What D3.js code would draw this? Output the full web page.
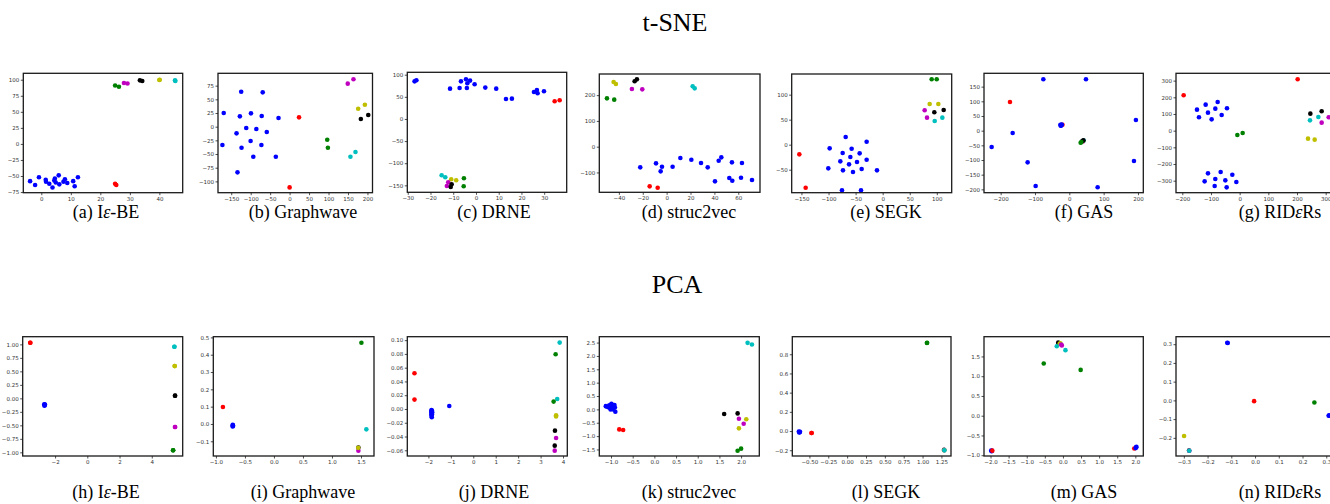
<!DOCTYPE html>
<html>
<head>
<meta charset="utf-8">
<script src="https://cdn.jsdelivr.net/npm/d3@7"></script>
<style>
  body { margin: 0; background: #fff; }
  .tick text { font-family: 'DejaVu Sans', sans-serif; font-size: 5.5px; fill: #333; }
  .tick line { stroke: #222; stroke-width: 0.8; }
  .title { font-family: 'Liberation Serif', serif; font-size: 26px; }
  .caption { font-family: 'Liberation Serif', serif; font-size: 18px; }
</style>
</head>
<body>
<script>
// matplotlib single-letter colours
var dotColors = {
  'b': '#0000ff', 'r': '#ff0000', 'g': '#008000', 'c': '#00bfbf',
  'm': '#bf00bf', 'y': '#bfbf00', 'k': '#000000'
};

// ---- t-SNE embeddings ([x, y, colour]) ----
var tsneIBE = [
  [-3.8,-58,'b'],[-2.1,-64,'b'],[-0.8,-52,'b'],[1.5,-56,'b'],[1.6,-59,'b'],[2.7,-62,'b'],
  [3.8,-68,'b'],[4.4,-57,'b'],[4.6,-54,'b'],[4.9,-60,'b'],[5.9,-49,'b'],[6.1,-63,'b'],
  [7.5,-59,'b'],[8.0,-55,'b'],[8.8,-61,'b'],[10.8,-58,'b'],[11.3,-66,'b'],[12.4,-52,'b'],
  [25.0,-62,'r'],[25.4,-64,'r'],[25.0,91,'g'],[26.3,89,'g'],[28.0,95,'m'],[29.2,94,'m'],
  [33.4,99,'k'],[34.2,98,'k'],[40.0,99.5,'y'],[40.1,100,'y'],[45.3,99,'c'],[45.4,98,'c']
];
var tsneGraphwave = [
  [-172.7,-33.5,'b'],[-169.3,25,'b'],[-136.4,-12.2,'b'],[-133.9,-83.5,'b'],[-127.8,18.9,'b'],
  [-124.4,64,'b'],[-123.5,-38.4,'b'],[-111.4,-2.4,'b'],[-100.2,-26.2,'b'],[-99.3,24.4,'b'],
  [-93.3,-54.9,'b'],[-85.5,-4.3,'b'],[-72.5,-33.5,'b'],[-71.7,19.5,'b'],[-69.1,62.8,'b'],
  [-58.7,-9.8,'b'],[-35.4,-54.9,'b'],[-28.5,15.9,'b'],
  [0,-111,'r'],[24.2,17.1,'r'],[96.7,-23.8,'g'],[98.4,-38.4,'g'],[156.3,-54.9,'c'],[169.3,-46.3,'c'],
  [149.4,78.7,'m'],[164.1,86.6,'m'],[176.2,32.9,'y'],[193.4,40.2,'y'],[183.1,14,'k'],[202.1,21.3,'k']
];
var tsneDRNE = [
  [-27,85,'b'],[-26.2,87.3,'b'],[-11.4,68.5,'b'],[-7.2,70,'b'],[-6.6,85,'b'],[-4.4,89.6,'b'],
  [-4,70,'b'],[-3.8,80.6,'b'],[-2.6,86.6,'b'],[-0.6,78.3,'b'],[4.1,70.8,'b'],[8.9,68.5,'b'],
  [13.2,45.2,'b'],[15.8,45.9,'b'],[25.5,61,'b'],[26.8,65.5,'b'],[27.1,58,'b'],[29.9,62.5,'b'],
  [34.6,39.9,'r'],[36.8,42.2,'r'],[-15.1,-127.3,'c'],[-13.5,-131.8,'c'],[-10.9,-136.3,'y'],
  [-8.7,-138.6,'y'],[-12.2,-143.1,'m'],[-12.8,-151.4,'m'],[-10.7,-147.6,'k'],[-11.1,-153.6,'k'],
  [-5.3,-134,'g'],[-5.4,-152.1,'g']
];
var tsneStruc2vec = [
  [-22.1,-80.2,'b'],[-8.9,-64.7,'b'],[-3.9,-77.6,'b'],[-5,-95.7,'b'],[5,-77.6,'b'],[11.5,-44,'b'],
  [20.7,-50.5,'b'],[28.8,-63.4,'b'],[34.4,-80.2,'b'],[40.5,-134.5,'b'],[43.6,-54.3,'b'],
  [45.8,-41.4,'b'],[52.5,-121.6,'b'],[54.7,-60.8,'b'],[55,-132,'b'],[62.3,-120.3,'b'],
  [63.1,-63.4,'b'],[71.5,-129.4,'b'],
  [-14.2,-154,'r'],[-7.5,-159.1,'r'],[-44.4,251,'y'],[-42.5,243,'y'],[-26.8,253.6,'k'],
  [-24.9,261.3,'k'],[-29.1,223.8,'m'],[-20.4,222.5,'m'],[-50,187.6,'g'],[-43.9,182.4,'g'],
  [21.8,234.2,'c'],[23.5,226.4,'c']
];
var tsneSEGK = [
  [-97.9,-7.3,'b'],[-100.4,-47.3,'b'],[-75.1,-91.3,'b'],[-73.9,-16.7,'b'],[-78.2,-33.3,'b'],
  [-73.3,-51.3,'b'],[-68.3,15.3,'b'],[-62.1,-39.3,'b'],[-59.7,-24.7,'b'],[-57.3,-8,'b'],
  [-54.8,-54.7,'b'],[-47.4,-34.7,'b'],[-42.5,-17.3,'b'],[-40,-91.3,'b'],[-38.8,-48.7,'b'],
  [-29.6,-30,'b'],[-29.6,6,'b'],[-10.5,-51.3,'b'],
  [-153.9,-19.3,'r'],[-142.2,-86,'r'],[90.5,130.7,'g'],[99.8,130.7,'g'],[86.8,81.3,'y'],
  [102.8,81.3,'y'],[77.6,68.7,'m'],[81.9,54,'m'],[95.4,64.7,'k'],[112.7,69.3,'k'],
  [96.1,47.3,'c'],[110.2,54,'c']
];
var tsneGAS = [
  [-20,20,'r'],
  [-226.2,-55.7,'b'],[-165,-8,'b'],[-121.4,-108,'b'],[-98.1,-188.6,'b'],[-75.7,175,'b'],
  [48.5,175,'b'],[82.5,-193,'b'],[194,36.4,'b'],[188.3,-103.4,'b'],
  [-26,20,'b'],[-24,18,'b'],[-22,21,'b'],[-25,17,'b'],[-23,19,'b'],
  [-172.8,97.7,'r'],[42,-34,'c'],[40,-36,'y'],[39,-37,'m'],[41,-33,'k'],[38,-35,'k'],
  [35,-39,'g'],[33,-41,'g']
];
var tsneRIDeRs = [
  [-148.8,126,'b'],[-141.9,80,'b'],[-118.6,156,'b'],[-110.5,108,'b'],[-97.7,68,'b'],
  [-84.9,132,'b'],[-76.7,172,'b'],[-62.8,94,'b'],[-44.2,134,'b'],
  [-122.1,-304,'b'],[-110.5,-256,'b'],[-84.9,-290,'b'],[-87.2,-332,'b'],[-66.3,-248,'b'],
  [-50,-298,'b'],[-45.3,-340,'b'],[-25.6,-264,'b'],[-11.6,-308,'b'],
  [-195.3,212,'r'],[202.3,308,'r'],[-8.1,-26,'g'],[10.5,-14,'g'],[246.5,102,'k'],[286,116,'k'],
  [245.3,62,'c'],[274.4,82,'c'],[286,48,'m'],[310.5,80,'m'],[238.4,-48,'y'],[261.6,-54,'y']
];

// ---- PCA embeddings ----
var pcaIBE = [
  [-2.67,-0.11,'b'],[-2.65,-0.125,'b'],[-2.63,-0.12,'b'],[-2.66,-0.135,'b'],[-2.64,-0.115,'b'],
  [-3.54,1.031,'r'],[-3.54,1.03,'r'],[5.40,0.957,'c'],[5.41,0.955,'c'],[5.42,0.599,'y'],
  [5.43,0.597,'y'],[5.44,0.049,'k'],[5.45,0.05,'k'],[5.44,-0.531,'m'],[5.45,-0.53,'m'],
  [5.32,-0.963,'g'],[5.33,-0.962,'g']
];
var pcaGraphwave = [
  [-0.71,-0.005,'b'],[-0.705,-0.012,'b'],[-0.712,-0.015,'b'],[-0.708,-0.008,'b'],
  [-0.879,0.098,'r'],[1.507,0.469,'g'],[1.592,-0.031,'c'],[1.455,-0.154,'m'],
  [1.455,-0.136,'k'],[1.452,-0.138,'y']
];
var pcaDRNE = [
  [-1.86,-0.0015,'b'],[-1.85,-0.004,'b'],[-1.87,-0.006,'b'],[-1.84,-0.008,'b'],[-1.86,-0.010,'b'],
  [-1.85,-0.012,'b'],[-1.83,-0.005,'b'],[-1.87,-0.003,'b'],[-1.84,-0.0025,'b'],[-1.86,-0.0085,'b'],
  [-1.07,0.0044,'b'],
  [-2.62,0.0518,'r'],[-2.62,0.0136,'r'],[3.85,0.0964,'c'],[3.74,0.0145,'c'],[3.67,0.0794,'g'],
  [3.58,0.0107,'g'],[3.69,-0.0092,'y'],[3.69,-0.011,'y'],[3.64,-0.0315,'k'],[3.63,-0.0533,'k'],
  [3.69,-0.0421,'m'],[3.63,-0.0605,'m']
];
var pcaStruc2vec = [
  [-1.09,0.1,'b'],[-1.04,0.15,'b'],[-0.99,0.21,'b'],[-0.96,0.05,'b'],[-0.91,0.07,'b'],
  [-1.01,0.0,'b'],[-0.9,-0.09,'b'],[-1.05,0.07,'b'],[-0.94,0.15,'b'],[-1.12,0.12,'b'],
  [-0.97,0.12,'b'],[-0.92,0.16,'b'],[-1.0,0.08,'b'],[-0.95,0.0,'b'],
  [-0.81,-0.75,'r'],[-0.72,-0.77,'r'],[1.61,-0.175,'k'],[1.92,-0.15,'k'],[1.95,-0.35,'m'],
  [2.06,-0.54,'m'],[2.12,-0.37,'y'],[1.95,-0.71,'y'],[1.92,-1.55,'g'],[2.0,-1.47,'g'],
  [2.15,2.49,'c'],[2.25,2.43,'c']
];
var pcaSEGK = [
  [-0.64,-0.005,'b'],[-0.63,-0.012,'b'],[-0.625,-0.008,'b'],[-0.635,-0.015,'b'],
  [-0.473,-0.021,'r'],[-0.47,-0.02,'r'],[1.06,0.92,'g'],[1.058,0.918,'g'],
  [1.285,-0.196,'k'],[1.287,-0.199,'m'],[1.288,-0.2,'y'],[1.289,-0.201,'c']
];
var pcaGAS = [
  [-1.98,-0.88,'b'],[-1.97,-0.9,'b'],[-1.96,-0.89,'b'],[-1.95,-0.885,'r'],
  [1.97,-0.83,'r'],[2.02,-0.80,'b'],[2.03,-0.79,'b'],[2.01,-0.82,'b'],
  [-0.13,1.85,'k'],[-0.11,1.83,'k'],[-0.09,1.82,'y'],[-0.07,1.83,'y'],[-0.03,1.78,'m'],
  [-0.05,1.8,'m'],[-0.17,1.76,'c'],[0.07,1.66,'c'],[-0.53,1.32,'g'],[0.49,1.16,'g']
];
var pcaRIDeRs = [
  [-0.117,0.308,'b'],[-0.115,0.306,'b'],[0.31,-0.082,'b'],[0.312,-0.08,'b'],
  [-0.004,-0.004,'r'],[0.25,-0.011,'g'],[-0.299,-0.19,'y'],
  [-0.278,-0.268,'k'],[-0.277,-0.269,'m'],[-0.277,-0.269,'c']
];

// ---- tick labels ----
var ticksIBEx = [0, 10, 20, 30, 40], ticksIBEy = [-75, -50, -25, 0, 25, 50, 75, 100];
var ticksGWx = [-150, -100, -50, 0, 50, 100, 150, 200], ticksGWy = [-100, -75, -50, -25, 0, 25, 50, 75];
var ticksDRNEx = [-30, -20, -10, 0, 10, 20, 30], ticksDRNEy = [-150, -100, -50, 0, 50, 100];
var ticksS2Vx = [-40, -20, 0, 20, 40, 60], ticksS2Vy = [-100, 0, 100, 200];
var ticksSEGKx = [-150, -100, -50, 0, 50, 100], ticksSEGKy = [-50, 0, 50, 100];
var ticksGASx = [-200, -100, 0, 100, 200], ticksGASy = [-200, -150, -100, -50, 0, 50, 100, 150];
var ticksRIDx = [-200, -100, 0, 100, 200, 300], ticksRIDy = [-300, -200, -100, 0, 100, 200, 300];

var pTicksIBEx = [-2, 0, 2, 4], pTicksIBEy = [-1, -0.75, -0.5, -0.25, 0, 0.25, 0.5, 0.75, 1];
var pTicksGWx = [-1, -0.5, 0, 0.5, 1, 1.5], pTicksGWy = [-0.1, 0, 0.1, 0.2, 0.3, 0.4, 0.5];
var pTicksDRNEx = [-2, -1, 0, 1, 2, 3, 4], pTicksDRNEy = [-0.06, -0.04, -0.02, 0, 0.02, 0.04, 0.06, 0.08, 0.1];
var pTicksS2Vx = [-1, -0.5, 0, 0.5, 1, 1.5, 2], pTicksS2Vy = [-1.5, -1, -0.5, 0, 0.5, 1, 1.5, 2, 2.5];
var pTicksSEGKx = [-0.5, -0.25, 0, 0.25, 0.5, 0.75, 1, 1.25], pTicksSEGKy = [-0.2, 0, 0.2, 0.4, 0.6, 0.8];
var pTicksGASx = [-2, -1.5, -1, -0.5, 0, 0.5, 1, 1.5, 2], pTicksGASy = [-1, -0.5, 0, 0.5, 1, 1.5];
var pTicksRIDx = [-0.3, -0.2, -0.1, 0, 0.1, 0.2, 0.3], pTicksRIDy = [-0.2, -0.1, 0, 0.1, 0.2, 0.3];

var rowTitles = ['t-SNE', 'PCA'];
var captionsTop = ['(a) Iε-BE', '(b) Graphwave', '(c) DRNE', '(d) struc2vec', '(e) SEGK', '(f) GAS', '(g) RIDεRs'];
var captionsBottom = ['(h) Iε-BE', '(i) Graphwave', '(j) DRNE', '(k) struc2vec', '(l) SEGK', '(m) GAS', '(n) RIDεRs'];

// Panel layout: frame [left, right, top, bottom] in pixels, plus axis domains
var panels = [
  { data: tsneIBE, fr: [23.3, 182.7, 73.3, 192.7], xd: [-6.1, 47.9], yd: [-76, 110], xt: ticksIBEx, yt: ticksIBEy, fx: 'd', fy: 'd' },
  { data: tsneGraphwave, fr: [218, 372.5, 73.3, 192.7], xd: [-184, 213], yd: [-120.7, 97.6], xt: ticksGWx, yt: ticksGWy, fx: 'd', fy: 'd' },
  { data: tsneDRNE, fr: [407.3, 566.7, 72.3, 192.3], xd: [-30.2, 39.9], yd: [-165.7, 105.4], xt: ticksDRNEx, yt: ticksDRNEy, fx: 'd', fy: 'd' },
  { data: tsneStruc2vec, fr: [599.3, 760, 74, 192.3], xd: [-56.4, 78.2], yd: [-177, 282], xt: ticksS2Vx, yt: ticksS2Vy, fx: 'd', fy: 'd' },
  { data: tsneSEGK, fr: [791.7, 951.7, 74, 192.7], xd: [-168, 127.5], yd: [-96, 141.3], xt: ticksSEGKx, yt: ticksSEGKy, fx: 'd', fy: 'd' },
  { data: tsneGAS, fr: [984, 1143.3, 73.3, 192.7], xd: [-248.5, 215.5], yd: [-211.4, 195.5], xt: ticksGASx, yt: ticksGASy, fx: 'd', fy: 'd' },
  { data: tsneRIDeRs, fr: [1176, 1336, 73.3, 192.7], xd: [-222, 336], yd: [-372, 344], xt: ticksRIDx, yt: ticksRIDy, fx: 'd', fy: 'd' },

  { data: pcaIBE, fr: [22.7, 182.7, 336.7, 456], xd: [-4.01, 5.92], yd: [-1.068, 1.142], xt: pTicksIBEx, yt: pTicksIBEy, fx: 'd', fy: '.2f' },
  { data: pcaGraphwave, fr: [213.3, 374, 336.7, 456], xd: [-1.045, 1.724], yd: [-0.185, 0.504], xt: pTicksGWx, yt: pTicksGWy, fx: '.1f', fy: '.1f' },
  { data: pcaDRNE, fr: [407.3, 567.3, 336.7, 456], xd: [-2.94, 4.19], yd: [-0.0683, 0.105], xt: pTicksDRNEx, yt: pTicksDRNEy, fx: 'd', fy: '.2f' },
  { data: pcaStruc2vec, fr: [599.3, 759.3, 336.7, 456], xd: [-1.27, 2.42], yd: [-1.745, 2.72], xt: pTicksS2Vx, yt: pTicksS2Vy, fx: '.1f', fy: '.1f' },
  { data: pcaSEGK, fr: [792.3, 951, 336.7, 456], xd: [-0.727, 1.377], yd: [-0.26, 0.983], xt: pTicksSEGKx, yt: pTicksSEGKy, fx: '.2f', fy: '.1f' },
  { data: pcaGAS, fr: [984, 1143.3, 336.7, 456], xd: [-2.18, 2.22], yd: [-1.02, 2.0], xt: pTicksGASx, yt: pTicksGASy, fx: '.1f', fy: '.1f' },
  { data: pcaRIDeRs, fr: [1176, 1336, 336.7, 456], xd: [-0.333, 0.341], yd: [-0.297, 0.34], xt: pTicksRIDx, yt: pTicksRIDy, fx: '.1f', fy: '.1f' }
];

var captionX = [106, 303, 494, 689, 886, 1084, 1280];

var svg = d3.select('body').append('svg')
  .attr('width', 1330)
  .attr('height', 504);

// Row titles
svg.append('text').attr('class', 'title').attr('x', 675).attr('y', 31)
  .attr('text-anchor', 'middle').text(rowTitles[0]);
svg.append('text').attr('class', 'title').attr('x', 677).attr('y', 293)
  .attr('text-anchor', 'middle').text(rowTitles[1]);

var drawPanel = function(p) {
  var x = d3.scaleLinear().domain(p.xd).range([p.fr[0], p.fr[1]]);
  var y = d3.scaleLinear().domain(p.yd).range([p.fr[3], p.fr[2]]);
  var g = svg.append('g');

  // points
  g.selectAll('circle')
    .data(p.data)
    .enter()
    .append('circle')
    .attr('cx', d => x(d[0]))
    .attr('cy', d => y(d[1]))
    .attr('r', 2.3)
    .style('fill', d => dotColors[d[2]]);

  // axes
  g.append('g')
    .attr('transform', 'translate(0,' + p.fr[3] + ')')
    .call(d3.axisBottom(x).tickValues(p.xt).tickSize(2.5).tickPadding(1.5).tickFormat(d3.format(p.fx)))
    .call(a => a.select('.domain').remove());
  g.append('g')
    .attr('transform', 'translate(' + p.fr[0] + ',0)')
    .call(d3.axisLeft(y).tickValues(p.yt).tickSize(2.5).tickPadding(1.5).tickFormat(d3.format(p.fy)))
    .call(a => a.select('.domain').remove());
  g.selectAll('.tick text').attr('font-family', null).attr('font-size', null);

  // frame
  g.append('rect')
    .attr('x', p.fr[0]).attr('y', p.fr[2])
    .attr('width', p.fr[1] - p.fr[0]).attr('height', p.fr[3] - p.fr[2])
    .style('fill', 'none').style('stroke', '#1a1a1a').style('stroke-width', 1.3);
}

panels.forEach(drawPanel);

// Captions with italic epsilon
var drawCaption = function(label, cx, cy) {
  var t = svg.append('text').attr('class', 'caption').attr('x', cx).attr('y', cy)
    .attr('text-anchor', 'middle');
  label.split(/(ε)/).forEach(part => {
    if(part == '') return;
    var s = t.append('tspan').text(part);
    if(part == 'ε') s.style('font-style', 'italic');
  });
}

captionsTop.forEach((c, i) => drawCaption(c, captionX[i], 218));
captionsBottom.forEach((c, i) => drawCaption(c, captionX[i], 498));
</script>
</body>
</html>
